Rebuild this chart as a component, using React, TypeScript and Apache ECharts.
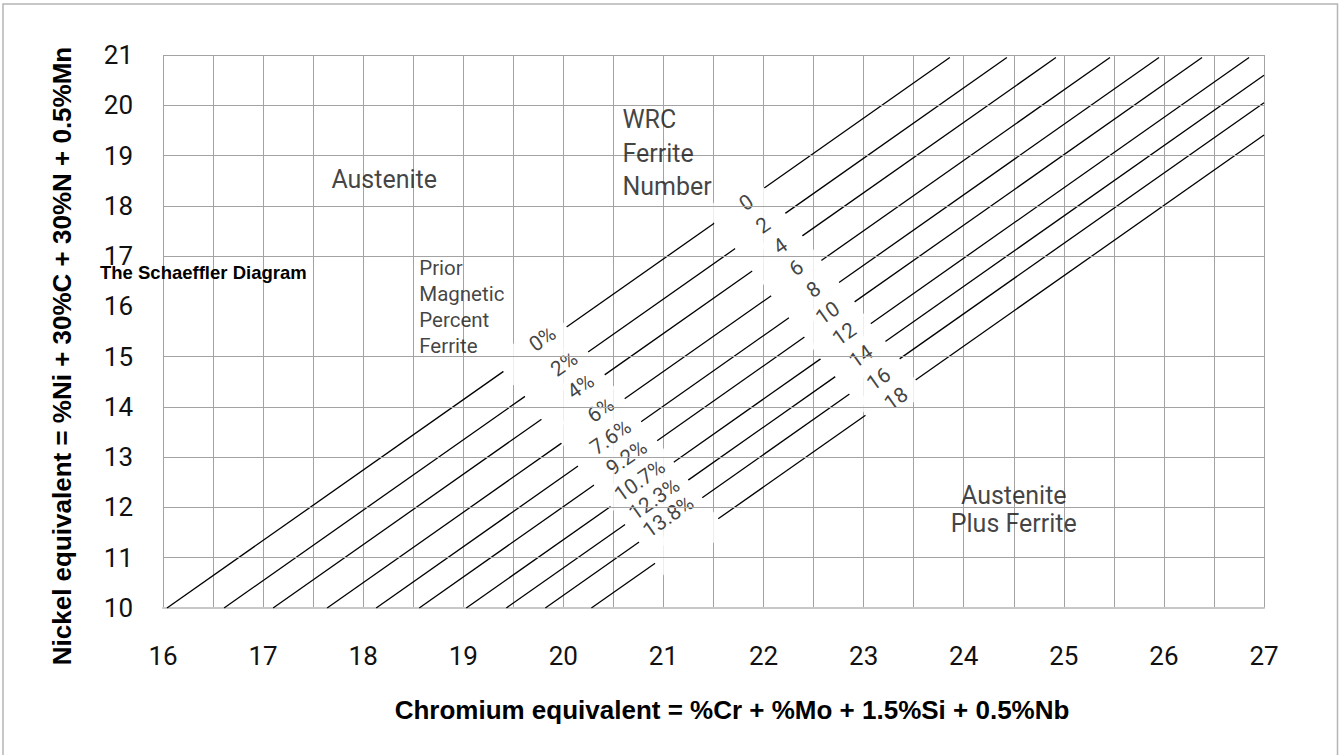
import React, { useEffect, useRef } from "react";
import * as echarts from "echarts";

// Axis ranges / ticks
const crMin = 16;
const crMax = 27;
const niMin = 10;
const niMax = 21;
// horizontal grid lines present in the picture (no line at 16)
const nickelGridValues = [11, 12, 13, 14, 15, 17, 18, 19, 20, 21];

// Ferrite lines (each line = one FN line and its percent line)
const ferriteStartX = [16.04, 16.61, 17.1, 17.64, 18.13, 18.56, 19.03, 19.43, 19.82, 20.28];
const ferriteStartY = [10, 10, 10, 10, 10, 10, 10, 10, 10, 10];
const ferriteEndX = [23.861, 24.431, 24.921, 25.461, 25.951, 26.381, 26.851, 27, 27, 27];
const ferriteEndY = [20.95, 20.95, 20.95, 20.95, 20.95, 20.95, 20.95, 20.598, 20.052, 19.408];

// Gaps in the lines where the percent labels sit
const pctGapStartX = [19.402, 19.617, 19.782, 19.982, 20.147, 20.307, 20.472, 20.617, 20.757, 20.917];
const pctGapStartY = [14.707, 14.21, 13.755, 13.279, 12.824, 12.446, 12.019, 11.662, 11.312, 10.892];
const pctGapEndX = [20.032, 20.247, 20.412, 20.612, 20.777, 20.937, 21.102, 21.247, 21.387, 21.547];
const pctGapEndY = [15.589, 15.092, 14.637, 14.161, 13.706, 13.328, 12.901, 12.544, 12.194, 11.774];
// Gaps in the lines where the WRC ferrite numbers sit
const wrcGapStartX = [21.507, 21.717, 21.887, 22.077, 22.254, 22.409, 22.57, 22.717, 22.859, 23.019];
const wrcGapStartY = [17.654, 17.15, 16.702, 16.212, 15.774, 15.389, 14.956, 14.602, 14.255, 13.835];
const wrcGapEndX = [22.007, 22.217, 22.387, 22.577, 22.754, 22.909, 23.07, 23.217, 23.359, 23.519];
const wrcGapEndY = [18.354, 17.85, 17.402, 16.912, 16.474, 16.089, 15.656, 15.302, 14.955, 14.535];

// Prior magnetic percent ferrite labels
const percentLabels = ["0%", "2%", "4%", "6%", "7.6%", "9.2%", "10.7%", "12.3%", "13.8%"];
const percentTextX = [19.792, 20.007, 20.172, 20.372, 20.472, 20.632, 20.764, 20.909, 21.049];
const percentTextY = [15.353, 14.855, 14.406, 13.938, 13.398, 12.99, 12.536, 12.167, 11.819];

// WRC ferrite number labels
const wrcLabels = ["0", "2", "4", "6", "8", "10", "12", "14", "16", "18"];
const wrcTextX = [21.827, 21.994, 22.167, 22.327, 22.5, 22.64, 22.807, 22.974, 23.15, 23.324];
const wrcTextY = [18.062, 17.61, 17.197, 16.767, 16.335, 15.87, 15.448, 15.002, 14.556, 14.163];

// Region annotations
const regionTexts = ["Austenite", "WRC\nFerrite\nNumber", "Prior\nMagnetic\nPercent\nFerrite", "Austenite\nPlus Ferrite"];
const regionX = [18.21, 20.59, 18.56, 24.5];
const regionY = [18.52, 19.045, 15.986, 11.956];

const xTitle = "Chromium equivalent = %Cr + %Mo + 1.5%Si + 0.5%Nb";
const yTitle = "Nickel equivalent = %Ni + 30%C + 30%N + 0.5%Mn";
const chartTitle = "The Schaeffler Diagram";

const LIGHT = "Roboto, 'Liberation Sans', Arial, sans-serif";
const BOLD = "'Liberation Sans', Arial, Helvetica, sans-serif";
const W = 400;
const ANGLE = 35.1;
const GRID_COLOR = "#a3a3a3";
const INK = "#111";

export default function App() {
  const ref = useRef<HTMLDivElement>(null);

  useEffect(() => {
    if (!ref.current) return;
    const chart = echarts.init(ref.current, undefined, { renderer: "svg" });

    const segmentSeries: any[] = [];
    ferriteStartX.forEach((sx, i) => {
      const segs = [
        [[sx, ferriteStartY[i]], [pctGapStartX[i], pctGapStartY[i]]],
        [[pctGapEndX[i], pctGapEndY[i]], [wrcGapStartX[i], wrcGapStartY[i]]],
        [[wrcGapEndX[i], wrcGapEndY[i]], [ferriteEndX[i], ferriteEndY[i]]],
      ];
      segs.forEach((d, j) => {
        segmentSeries.push({
          type: "line",
          name: "ferrite-" + i + "-" + j,
          data: d,
          symbol: "none",
          showSymbol: false,
          silent: true,
          lineStyle: { color: "#000", width: 1.3 },
          z: 2,
        });
      });
    });

    const bandCenters = (sx: number[], sy: number[], ex: number[], ey: number[]) =>
      sx.map((x, i) => [(x + ex[i]) / 2, (sy[i] + ey[i]) / 2]);

    const bandSeries = (name: string, data: number[][], w: number) => ({
      type: "scatter",
      name,
      silent: true,
      clip: false,
      symbolSize: 1,
      itemStyle: { color: "rgba(0,0,0,0)" },
      z: 3,
      data,
      label: {
        show: true,
        position: "inside",
        formatter: " ",
        width: w,
        height: 34,
        padding: 0,
        backgroundColor: "#ffffff",
        rotate: ANGLE,
      },
    });

    const textSeries = (name: string, labels: string[], xs: number[], ys: number[]) => ({
      type: "scatter",
      name,
      silent: true,
      clip: false,
      symbolSize: 1,
      itemStyle: { color: "rgba(0,0,0,0)" },
      z: 4,
      data: labels.map((t, i) => ({ name: t, value: [xs[i], ys[i]] })),
      label: {
        show: true,
        position: "inside",
        formatter: "{b}",
        rotate: ANGLE,
        fontSize: 21,
        fontFamily: LIGHT,
        fontWeight: W,
        color: INK,
      },
    });

    const option: any = {
      animation: false,
      backgroundColor: "#ffffff",
      title: {
        text: chartTitle,
        left: 100,
        top: 262,
        padding: 0,
        textStyle: {
          fontFamily: BOLD,
          fontWeight: "bold",
          fontSize: 18.5,
          lineHeight: 20,
          color: "#000",
        },
      },
      grid: { left: 163, top: 55, width: 1101, height: 553, show: false },
      xAxis: {
        type: "value",
        min: crMin,
        max: crMax,
        interval: 0.5,
        axisLine: { show: true, onZero: false, lineStyle: { color: "#c8c8c8", width: 2 } },
        axisTick: { show: false },
        axisLabel: {
          margin: 35,
          fontSize: 26,
          lineHeight: 26,
          fontFamily: LIGHT,
          fontWeight: W,
          color: INK,
          formatter: (v: number) => (Number.isInteger(v) ? String(v) : ""),
        },
        splitLine: { show: true, lineStyle: { color: GRID_COLOR, width: 1 } },
      },
      yAxis: {
        type: "value",
        min: niMin,
        max: niMax,
        interval: 1,
        axisLine: { show: false },
        axisTick: { show: false },
        axisLabel: {
          margin: 30,
          fontSize: 26,
          fontFamily: LIGHT,
          fontWeight: W,
          color: INK,
        },
        splitLine: { show: false },
      },
      graphic: [
        {
          type: "rect",
          silent: true,
          shape: { x: 3, y: 4, width: 1334.5, height: 760 },
          style: { fill: "none", stroke: "#b5b5b5", lineWidth: 1.5 },
          z: -1,
        },
        {
          type: "text",
          silent: true,
          x: 62,
          y: 356,
          rotation: Math.PI / 2,
          style: {
            text: yTitle,
            fontFamily: BOLD,
            fontWeight: "bold",
            fontSize: 26,
            fill: "#000",
            align: "center",
            verticalAlign: "middle",
          },
        },
        {
          type: "text",
          silent: true,
          x: 732,
          y: 710,
          style: {
            text: xTitle,
            fontFamily: BOLD,
            fontWeight: "bold",
            fontSize: 26,
            fill: "#000",
            align: "center",
            verticalAlign: "middle",
          },
        },
      ],
      series: [
        {
          type: "line",
          name: "grid",
          data: [[crMin, niMin]],
          symbol: "none",
          lineStyle: { opacity: 0 },
          silent: true,
          z: 1,
          markLine: {
            silent: true,
            symbol: ["none", "none"],
            label: { show: false },
            emphasis: { disabled: true },
            lineStyle: { color: GRID_COLOR, width: 1, type: "solid" },
            data: nickelGridValues.map((v) => ({ yAxis: v })),
          },
        },
        ...segmentSeries,
        bandSeries("percent-band", bandCenters(pctGapStartX, pctGapStartY, pctGapEndX, pctGapEndY), 77),
        bandSeries("wrc-band", bandCenters(wrcGapStartX, wrcGapStartY, wrcGapEndX, wrcGapEndY), 61),
        textSeries("percent-labels", percentLabels, percentTextX, percentTextY),
        textSeries("wrc-labels", wrcLabels, wrcTextX, wrcTextY),
        {
          type: "scatter",
          name: "regions",
          silent: true,
          clip: false,
          symbolSize: 1,
          itemStyle: { color: "rgba(0,0,0,0)" },
          z: 5,
          data: regionTexts.map((t, i) => {
            const left = i === 1 || i === 2;
            const small = i === 2;
            return {
              name: t,
              value: [regionX[i], regionY[i]],
              label: {
                align: left ? "left" : "center",
                fontSize: small ? 20.5 : 25,
                lineHeight: small ? 26 : i === 1 ? 33.5 : 28,
              },
            };
          }),
          label: {
            show: true,
            position: "inside",
            verticalAlign: "middle",
            formatter: "{b}",
            fontFamily: LIGHT,
            fontWeight: W,
            color: INK,
          },
        },
      ],
    };

    chart.setOption(option);
    return () => {
      chart.dispose();
    };
  }, []);

  return (
    <div
      ref={ref}
      style={{ position: "absolute", left: 0, top: 0, width: 1340, height: 755, background: "#fff" }}
    />
  );
}
